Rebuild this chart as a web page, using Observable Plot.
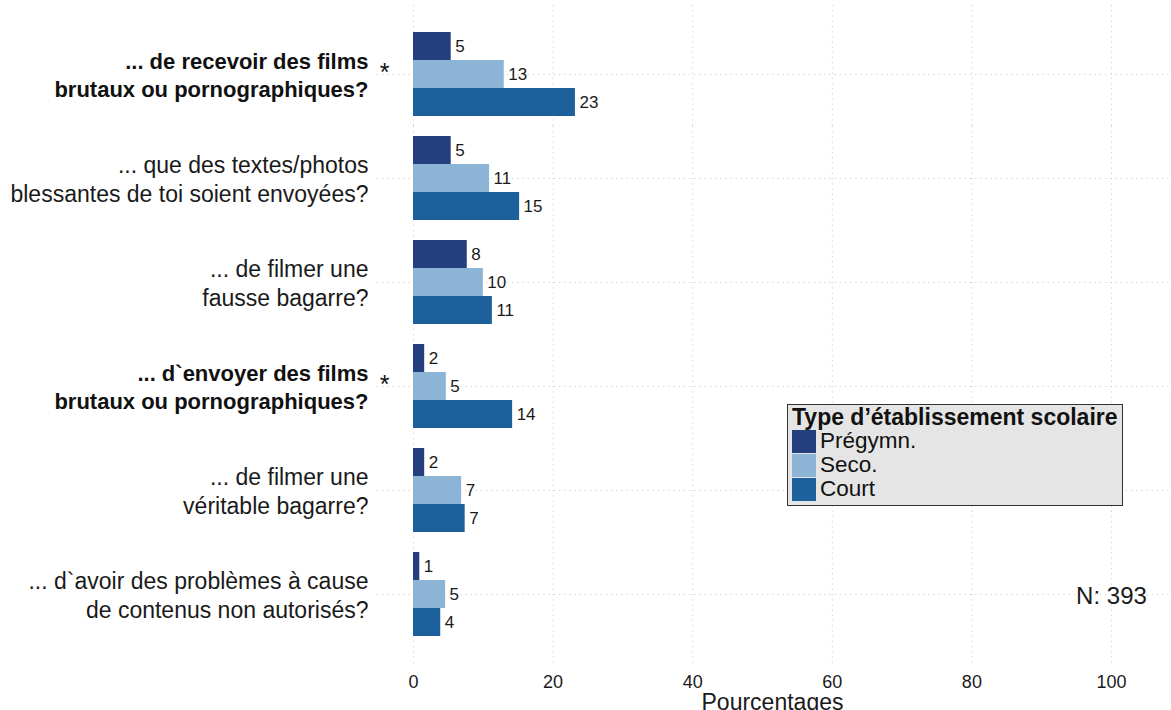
<!DOCTYPE html>
<html>
<head>
<meta charset="utf-8">
<script src="https://cdn.jsdelivr.net/npm/d3@7"></script>
<script src="https://cdn.jsdelivr.net/npm/@observablehq/plot@0.6"></script>
<style>
  html, body { margin: 0; padding: 0; background: #ffffff; }
  body { font-family: "Liberation Sans", Arial, Helvetica, sans-serif; }
  #wrap { position: relative; width: 1171px; height: 710px; overflow: hidden; }
  #legend {
    position: absolute; left: 787px; top: 404px; box-sizing: border-box;
    width: 336px; height: 102px; background: #e5e5e5; border: 1.5px solid #333;
    padding: 0 0 0 4px; color: #111;
  }
  #legend .lt { font-weight: bold; font-size: 23px; line-height: 24px; height: 24px; white-space: nowrap; }
  #legend .row { display: flex; align-items: center; height: 24px; }
  #legend .sw { width: 24px; height: 23px; margin-right: 4px; flex: none; }
  #legend .lb { font-size: 22.5px; line-height: 24px; }
</style>
</head>
<body>
<div id="wrap"></div>
<script>
// ---- data ----
const questions = [
  "... de recevoir des films\nbrutaux ou pornographiques?",
  "... que des textes/photos\nblessantes de toi soient envoyées?",
  "... de filmer une\nfausse bagarre?",
  "... d`envoyer des films\nbrutaux ou pornographiques?",
  "... de filmer une\nvéritable bagarre?",
  "... d`avoir des problèmes à cause\nde contenus non autorisés?"
];
const starred = [true, false, false, true, false, false];
const types = ["Prégymn.", "Seco.", "Court"];
const typeColors = ["#243e7e", "#8cb4d6", "#1c609c"];
const pregymn = [5.4, 5.4, 7.7, 1.6, 1.6, 0.9];
const seco    = [13.0, 10.9, 10.0, 4.7, 6.9, 4.6];
const court   = [23.2, 15.2, 11.3, 14.2, 7.4, 3.9];
const xTicks = [0, 20, 40, 60, 80, 100];
const axisTitle = "Pourcentages";
const nText = "N: 393";
const legendTitle = "Type d’établissement scolaire";

// ---- table built from the arrays ----
const series = [pregymn, seco, court];
const rows = questions.flatMap((q, i) => types.map((t, j) => ({q, type: t, value: series[j][i]})));
const firstQ = questions[0];
const lastQ = questions[questions.length - 1];
const gridRows = (qs) => qs.flatMap(q => xTicks.map(x => ({q, x})));
const grid = {stroke: "#cfcfcf", strokeWidth: 1, strokeDasharray: "1.2,4"};
const fmt = d3.format(".0f");

const chart = Plot.plot({
  width: 1171,
  height: 710,
  marginLeft: 377,
  marginRight: 0,
  marginTop: 22,
  marginBottom: 64,
  style: {fontFamily: "'Liberation Sans', Arial, Helvetica, sans-serif", fontSize: "18px", color: "#1a1a1a", background: "transparent"},
  x: {domain: [-5.16, 108.6], ticks: xTicks, tickSize: 0, tickPadding: 29, label: null},
  y: {domain: types, paddingInner: 0, paddingOuter: 0.357, axis: null},
  fy: {domain: questions, padding: 0, axis: null},
  color: {domain: types, range: typeColors},
  marks: [
    Plot.ruleX(gridRows([firstQ]), {x: "x", fy: "q", insetTop: -17, ...grid}),
    Plot.ruleX(gridRows(questions.slice(1, -1)), {x: "x", fy: "q", ...grid}),
    Plot.ruleX(gridRows([lastQ]), {x: "x", fy: "q", insetBottom: -21, ...grid}),
    Plot.ruleY(questions, {fy: d => d, y: () => types[1], ...grid}),
    Plot.barX(rows, {x: "value", y: "type", fy: "q", fill: "type"}),
    Plot.text(rows, {x: "value", y: "type", fy: "q", text: d => fmt(d.value), textAnchor: "start", dx: 4, fontSize: 17, fill: "#1a1a1a"}),
    Plot.text(questions.filter((q, i) => starred[i]), {fy: d => d, frameAnchor: "left", text: d => d, textAnchor: "end", dx: -9, fontSize: 22, fontWeight: "bold", lineHeight: 1.27, fill: "#111"}),
    Plot.text(questions.filter((q, i) => !starred[i]), {fy: d => d, frameAnchor: "left", text: d => d, textAnchor: "end", dx: -9, fontSize: 23, lineHeight: 1.22, fill: "#1a1a1a"}),
    Plot.text(questions.filter((q, i) => starred[i]), {fy: d => d, frameAnchor: "left", text: () => "*", textAnchor: "middle", dx: 7, dy: -2, fontSize: 25, fill: "#111"}),
    Plot.text([nText], {fy: () => lastQ, x: () => 100, y: () => types[1], text: d => d, fontSize: 24, dy: 2, fill: "#1a1a1a"}),
    Plot.text([axisTitle], {fy: () => lastQ, frameAnchor: "bottom", text: d => d, lineAnchor: "top", dy: 47, dx: -2, fontSize: 23, fill: "#1a1a1a"})
  ]
});

const wrap = document.getElementById("wrap");
wrap.appendChild(chart);

// legend (overlay inside the panel, like the original)
const lg = document.createElement("div");
lg.id = "legend";
const lt = document.createElement("div");
lt.className = "lt";
lt.textContent = legendTitle;
lg.appendChild(lt);
types.forEach((t, i) => {
  const r = document.createElement("div");
  r.className = "row";
  const sw = document.createElement("div");
  sw.className = "sw";
  sw.style.background = typeColors[i];
  const lb = document.createElement("div");
  lb.className = "lb";
  lb.textContent = t;
  r.appendChild(sw);
  r.appendChild(lb);
  lg.appendChild(r);
});
wrap.appendChild(lg);
</script>
</body>
</html>
